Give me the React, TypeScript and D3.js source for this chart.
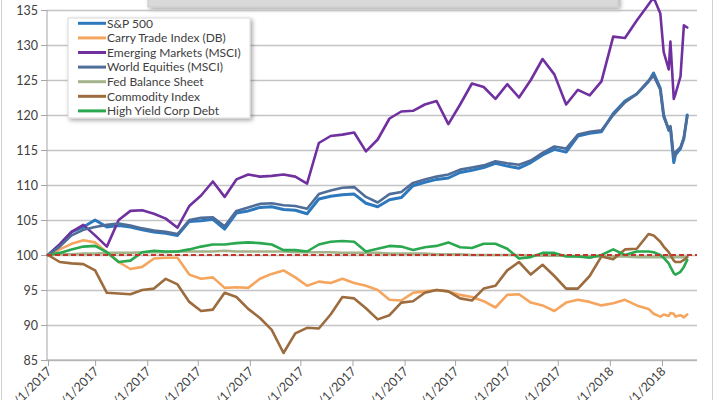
import React, { useEffect, useRef } from 'react';
import * as d3 from 'd3';

const DATES = [
  '2017-02-01','2017-02-08','2017-02-15','2017-02-22','2017-03-01','2017-03-08','2017-03-15','2017-03-22','2017-03-29',
  '2017-04-05','2017-04-12','2017-04-19','2017-04-26','2017-05-03','2017-05-10','2017-05-17','2017-05-24','2017-05-31',
  '2017-06-07','2017-06-14','2017-06-21','2017-06-28','2017-07-05','2017-07-12','2017-07-19','2017-07-26',
  '2017-08-02','2017-08-09','2017-08-16','2017-08-23','2017-08-30','2017-09-06','2017-09-13','2017-09-20','2017-09-27',
  '2017-10-04','2017-10-11','2017-10-18','2017-10-25','2017-11-01','2017-11-08','2017-11-15','2017-11-22','2017-11-29',
  '2017-12-06','2017-12-13','2017-12-20','2017-12-27','2018-01-03','2018-01-10','2018-01-17','2018-01-24',
  '2018-01-27','2018-01-31','2018-02-02','2018-02-05','2018-02-06','2018-02-08','2018-02-09','2018-02-12','2018-02-14','2018-02-16'
];

const SP500 = [
  100, 101.5, 103.3, 104, 105, 104, 104.2, 104, 103.6, 103.3, 103.1, 102.8, 104.8, 104.9, 105.1, 103.7,
  106, 106.3, 106.8, 106.9, 106.5, 106.4, 105.9, 108, 108.4, 108.6, 108.7, 107.4, 106.9, 107.9, 108.2,
  109.9, 110.4, 110.8, 111, 111.8, 112.1, 112.5, 113.1, 112.7, 112.4, 113.2, 114.3, 115.1, 114.7,
  117, 117.4, 117.6, 120.2, 122, 123, 124.8,
  126, 123.8, 120, 117.8, 118.2, 113.2, 114.3, 115.2, 116.6, 120
];

const CARRY_TRADE = [
  100, 100.8, 101.6, 102.1, 101.8, 100.4, 99, 98, 98.3, 99.5, 99.6, 99.6, 97.2, 96.6, 96.8, 95.3,
  95.4, 95.3, 96.6, 97.3, 97.8, 96.8, 95.6, 96.2, 96, 96.6, 96, 95.6, 95, 93.6, 93.5,
  94.6, 94.8, 95, 94.8, 94.3, 94, 93.4, 92.5, 94.3, 94.4, 93.2, 92.8, 92, 93.2,
  93.6, 93.3, 92.8, 93.1, 93.6, 92.8, 92.3,
  91.6, 91.2, 91.5, 91.3, 91.7, 91.6, 91.2, 91.4, 91.1, 91.5
];

const EMERGING = [
  100, 101.5, 103.3, 104.3, 102.8, 101.2, 105, 106.3, 106.4, 105.9, 105.2, 103.9, 107, 108.5, 110.5, 108.3,
  110.8, 111.5, 111.2, 111.3, 111.5, 111.2, 110.2, 116, 117, 117.2, 117.5, 114.8, 116.5, 119.5, 120.5,
  120.6, 121.5, 122, 118.7, 121.5, 124.5, 124, 122.3, 124.4, 122.5, 125, 128, 125.8, 121.5,
  123.6, 122.8, 124.8, 131.2, 131, 133.5, 135.8,
  136.8, 134.5, 129, 126.5, 130.5, 122.3, 123, 125.5, 132.8, 132.5
];

const WORLD = [
  100, 101.2, 102.8, 103.6, 104, 104.3, 104.5, 104.2, 103.8, 103.5, 103.3, 103, 105, 105.3, 105.4, 104.1,
  106.3, 106.8, 107.3, 107.4, 107.1, 107, 106.6, 108.7, 109.2, 109.6, 109.7, 108.3, 107.5, 108.7, 109,
  110.3, 110.8, 111.2, 111.5, 112.2, 112.5, 112.8, 113.4, 113.1, 112.9, 113.5, 114.6, 115.5, 115.2,
  117.2, 117.6, 117.8, 120, 121.8, 123, 124.9,
  125.6, 123.6, 119.7, 118, 118.4, 113.9, 114.7, 115.4, 116.8, 119.8
];

const FED = [
  100, 100.1, 100.1, 100.2, 100.2, 100.3, 100.3, 100.3, 100.4, 100.4, 100.4, 100.5, 100.5, 100.5, 100.5, 100.6,
  100.5, 100.5, 100.5, 100.5, 100.5, 100.4, 100.4, 100.4, 100.4, 100.3, 100.3, 100.3, 100.3, 100.2, 100.2,
  100.2, 100.2, 100.1, 100.1, 100.1, 100, 100, 100, 100, 100, 99.9, 99.9, 99.9, 99.9,
  99.8, 99.8, 99.8, 99.8, 99.8, 99.7, 99.7,
  99.7, 99.7, 99.7, 99.7, 99.7, 99.7, 99.7, 99.7, 99.7, 99.7
];

const COMMODITY = [
  100, 99, 98.8, 98.7, 97.8, 94.6, 94.5, 94.4, 95, 95.2, 96.6, 95.8, 93.3, 92, 92.2, 94.6,
  94, 92.3, 91, 89.3, 86, 88.8, 89.6, 89.5, 91.5, 94, 93.8, 92.4, 90.8, 91.4, 93.2,
  93.4, 94.6, 95, 94.8, 93.8, 93.5, 95.2, 95.6, 97.8, 99, 97.2, 98.6, 97, 95.2,
  95.2, 97, 99.8, 99.4, 100.8, 100.9, 103,
  102.8, 101.9, 101.2, 100.4, 100, 99.2, 99, 99, 99.3, 99.7
];

const HIGH_YIELD = [
  100, 100.3, 100.8, 101.2, 101.3, 100.4, 99, 99.2, 100.4, 100.6, 100.5, 100.5, 100.8, 101.2, 101.5, 101.5,
  101.7, 101.8, 101.7, 101.5, 100.7, 100.7, 100.5, 101.5, 101.9, 102, 101.9, 100.5, 100.9, 101.3, 101.2,
  100.7, 101.1, 101.3, 101.8, 101.1, 101, 101.6, 101.6, 100.9, 99.5, 99.7, 100.3, 100.3, 99.8,
  99.8, 99.6, 100, 100.8, 100, 100.5, 100.5,
  100.4, 100, 99.6, 98.8, 98.3, 97.4, 97.2, 97.6, 98.3, 99.3
];

const SERIES_NAMES = [
  'S&P 500', 'Carry Trade Index (DB)', 'Emerging Markets (MSCI)', 'World Equities (MSCI)',
  'Fed Balance Sheet', 'Commodity Index', 'High Yield Corp Debt'
];
const SERIES_COLORS = ['#2e78bd', '#f5a55e', '#7030a0', '#4f6d99', '#a3b48c', '#9c6b3e', '#2aa84f'];

const Y_TICKS = [85, 90, 95, 100, 105, 110, 115, 120, 125, 130, 135];
const X_TICKS = [
  '2017-02-01','2017-03-01','2017-04-01','2017-05-01','2017-06-01','2017-07-01','2017-08-01',
  '2017-09-01','2017-10-01','2017-11-01','2017-12-01','2018-01-01','2018-02-01'
];
const BASELINE = 100;

export default function App() {
  const ref = useRef<SVGSVGElement>(null);

  useEffect(() => {
    const W = 720, H = 400;
    const svg = d3.select(ref.current);
    svg.selectAll('*').remove();
    const font = 'Lato, "Open Sans", sans-serif';
    const parse = d3.utcParse('%Y-%m-%d');
    const dates = DATES.map(d => parse(d) as Date);

    const x = d3.scaleUtc().domain([parse('2017-02-01') as Date, parse('2018-02-01') as Date]).range([48, 662]);
    const y = d3.scaleLinear().domain([85, 135]).range([360, 10]);
    const plotLeft = 47, plotRight = 697;

    const defs = svg.append('defs');
    const f = defs.append('filter').attr('id', 'shadow')
      .attr('x', '-10%').attr('y', '-20%').attr('width', '130%').attr('height', '150%');
    f.append('feDropShadow').attr('dx', 2).attr('dy', 2).attr('stdDeviation', 2)
      .attr('flood-color', '#000').attr('flood-opacity', 0.35);

    svg.append('rect').attr('width', W).attr('height', H).attr('fill', '#ffffff');
    svg.append('rect').attr('x', 1.5).attr('y', -5).attr('width', 711).attr('height', 410)
      .attr('fill', 'none').attr('stroke', '#d0d0d0');

    // remnant of title box
    svg.append('rect').attr('x', 148).attr('y', -14).attr('width', 470).attr('height', 21)
      .attr('fill', '#d9d9d9').attr('stroke', '#c8c8c8').attr('filter', 'url(#shadow)');

    // gridlines
    const grid = svg.append('g').attr('transform', `translate(${plotLeft},0)`)
      .call(d3.axisRight(y).tickValues(Y_TICKS).tickSize(plotRight - plotLeft).tickFormat(() => ''));
    grid.select('.domain').remove();
    grid.selectAll('line').attr('stroke', '#c4c4c4').attr('stroke-width', 1.3);

    // y axis
    const gy = svg.append('g').attr('transform', `translate(${plotLeft},0)`)
      .call(d3.axisLeft(y).tickValues(Y_TICKS).tickSize(6).tickPadding(3).tickFormat(d3.format('d')));
    gy.select('.domain').attr('stroke', '#a6a6a6').attr('d', `M0,${y(135)}V${y(85)}`);
    gy.selectAll('line').attr('stroke', '#a6a6a6');
    gy.selectAll('text').attr('fill', '#404040').style('font-family', font).style('font-size', '12.5px');

    // x axis
    const fmt = d3.utcFormat('%-m/%-d/%Y');
    const gx = svg.append('g').attr('transform', `translate(0,${y(85)})`)
      .call(d3.axisBottom(x).tickValues(X_TICKS.map(d => parse(d) as Date)).tickSize(6).tickFormat(d => fmt(d as Date)));
    gx.select('.domain').attr('d', `M${plotLeft},0H${plotRight}`).attr('stroke', '#a6a6a6');
    gx.selectAll('line').attr('stroke', '#a6a6a6');
    gx.selectAll('text')
      .attr('y', 0).attr('dy', 0)
      .attr('text-anchor', 'end')
      .attr('transform', 'translate(4,12) rotate(-45)')
      .attr('fill', '#404040').style('font-family', font).style('font-size', '12.5px');

    // series lines
    const allSeries = [SP500, CARRY_TRADE, EMERGING, WORLD, FED, COMMODITY, HIGH_YIELD];
    const line = d3.line<number>().x((_, i) => x(dates[i])).y(v => y(v)).curve(d3.curveLinear);
    const gl = svg.append('g');
    allSeries.forEach((vals, k) => {
      gl.append('path').attr('d', line(vals) as string).attr('fill', 'none')
        .attr('stroke', SERIES_COLORS[k]).attr('stroke-width', k === 0 ? 3 : 2.6)
        .attr('stroke-linejoin', 'round').attr('stroke-linecap', 'round');
    });

    // baseline dashed
    svg.append('line').attr('x1', plotLeft).attr('x2', plotRight)
      .attr('y1', y(BASELINE)).attr('y2', y(BASELINE))
      .attr('stroke', '#c0392b').attr('stroke-width', 2).attr('stroke-dasharray', '5,3');

    // legend
    const lg = svg.append('g');
    lg.append('rect').attr('x', 68).attr('y', 18).attr('width', 182).attr('height', 100)
      .attr('fill', '#ffffff').attr('stroke', '#d9d9d9').attr('filter', 'url(#shadow)');
    SERIES_NAMES.forEach((name, k) => {
      const cy = 23.3 + k * 14.6;
      lg.append('line').attr('x1', 78).attr('x2', 106).attr('y1', cy).attr('y2', cy)
        .attr('stroke', SERIES_COLORS[k]).attr('stroke-width', 3);
      lg.append('text').attr('x', 107).attr('y', cy).attr('dy', '0.35em').text(name)
        .attr('fill', '#404040').style('font-family', font).style('font-size', '12px');
    });
  }, []);

  return <svg ref={ref} width={720} height={400} style={{ position: 'absolute', left: 0, top: 0 }} />;
}
